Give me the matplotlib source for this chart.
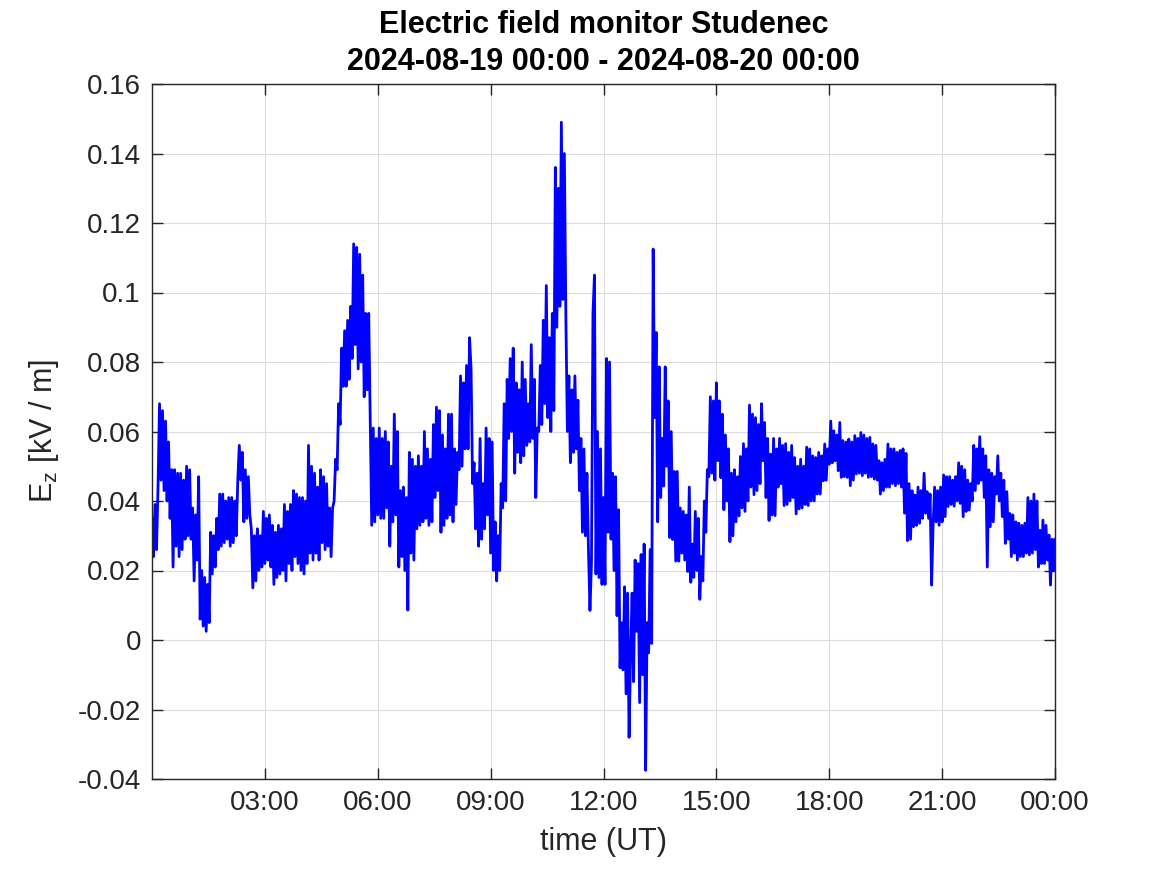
import numpy as np
import matplotlib
matplotlib.use("Agg")
from matplotlib import pyplot as plt
from matplotlib.ticker import FuncFormatter

plt.rcParams["font.family"] = ["Liberation Sans", "DejaVu Sans"]
plt.rcParams["mathtext.fontset"] = "custom"
plt.rcParams["mathtext.rm"] = "Liberation Sans"
plt.rcParams["mathtext.it"] = "Liberation Sans"
plt.rcParams["axes.unicode_minus"] = False

# E_z record, one sample every 2.4 min starting 2024-08-19 00:00 UT (kV/m)
sample_minutes = 2.4
ez = [
    0.035, 0.024, 0.039, 0.026, 0.044, 0.068, 0.046, 0.066, 0.043, 0.063,
    0.040, 0.057, 0.035, 0.049, 0.021, 0.049, 0.027, 0.048, 0.024, 0.048,
    0.026, 0.046, 0.029, 0.050, 0.030, 0.049, 0.029, 0.038, 0.017, 0.036,
    0.023, 0.047, 0.006, 0.020, 0.004, 0.018, 0.0025, 0.016, 0.005, 0.031,
    0.019, 0.030, 0.021, 0.035, 0.026, 0.042, 0.027, 0.042, 0.028, 0.040,
    0.029, 0.041, 0.027, 0.041, 0.028, 0.040, 0.030, 0.046, 0.056, 0.046,
    0.054, 0.034, 0.049, 0.035, 0.047, 0.036, 0.032, 0.015, 0.030, 0.017,
    0.032, 0.020, 0.030, 0.021, 0.037, 0.022, 0.035, 0.023, 0.036, 0.021,
    0.033, 0.016, 0.031, 0.018, 0.033, 0.019, 0.032, 0.020, 0.039, 0.017,
    0.037, 0.022, 0.039, 0.020, 0.043, 0.024, 0.042, 0.022, 0.041, 0.020,
    0.041, 0.019, 0.040, 0.022, 0.056, 0.025, 0.050, 0.023, 0.048, 0.025,
    0.044, 0.023, 0.049, 0.028, 0.047, 0.026, 0.045, 0.027, 0.038, 0.024,
    0.038, 0.040, 0.052, 0.049, 0.068, 0.062, 0.084, 0.073, 0.089, 0.073,
    0.092, 0.075, 0.096, 0.081, 0.114, 0.085, 0.113, 0.078, 0.111, 0.080,
    0.105, 0.070, 0.094, 0.072, 0.094, 0.063, 0.033, 0.061, 0.034, 0.058,
    0.036, 0.061, 0.035, 0.058, 0.035, 0.060, 0.038, 0.057, 0.027, 0.050,
    0.034, 0.065, 0.036, 0.060, 0.021, 0.043, 0.024, 0.044, 0.020, 0.041,
    0.0086, 0.054, 0.025, 0.052, 0.023, 0.050, 0.032, 0.053, 0.033, 0.050,
    0.034, 0.060, 0.035, 0.055, 0.033, 0.052, 0.034, 0.062, 0.041, 0.067,
    0.043, 0.066, 0.031, 0.059, 0.033, 0.055, 0.035, 0.065, 0.036, 0.065,
    0.034, 0.055, 0.039, 0.054, 0.049, 0.076, 0.050, 0.074, 0.055, 0.079,
    0.055, 0.087, 0.078, 0.045, 0.051, 0.032, 0.048, 0.027, 0.058, 0.029,
    0.045, 0.032, 0.061, 0.036, 0.058, 0.025, 0.057, 0.020, 0.034, 0.017,
    0.030, 0.020, 0.045, 0.038, 0.068, 0.040, 0.075, 0.058, 0.081, 0.060,
    0.084, 0.048, 0.074, 0.054, 0.072, 0.051, 0.080, 0.053, 0.075, 0.056,
    0.068, 0.057, 0.085, 0.058, 0.075, 0.041, 0.061, 0.060, 0.079, 0.062,
    0.092, 0.068, 0.102, 0.064, 0.087, 0.060, 0.094, 0.066, 0.136, 0.090,
    0.130, 0.096, 0.149, 0.098, 0.140, 0.093, 0.060, 0.076, 0.051, 0.072,
    0.054, 0.076, 0.055, 0.069, 0.043, 0.058, 0.031, 0.055, 0.030, 0.048,
    0.026, 0.0085, 0.022, 0.094, 0.105, 0.019, 0.060, 0.018, 0.055, 0.016,
    0.041, 0.016, 0.081, 0.031, 0.080, 0.029, 0.048, 0.020, 0.047, 0.007,
    0.0375, -0.008, 0.005, -0.0086, 0.0153, -0.0155, 0.0135, -0.028, -0.004, 0.0135,
    -0.012, 0.023, 0.0025, 0.022, -0.018, 0.0246, -0.010, 0.0276, -0.0375, 0.005,
    -0.0037, 0.026, -0.001, 0.1125, 0.064, 0.0885, 0.034, 0.0786, 0.041, 0.058,
    0.0443, 0.0786, 0.050, 0.0688, 0.0295, 0.060, 0.0289, 0.0485, 0.0227, 0.0485,
    0.0227, 0.038, 0.025, 0.037, 0.023, 0.036, 0.0197, 0.044, 0.0166, 0.0276,
    0.018, 0.037, 0.020, 0.035, 0.0117, 0.024, 0.017, 0.040, 0.031, 0.049,
    0.047, 0.070, 0.048, 0.0688, 0.046, 0.074, 0.0516, 0.0688, 0.0467, 0.065,
    0.0375, 0.059, 0.040, 0.055, 0.0283, 0.048, 0.030, 0.049, 0.034, 0.047,
    0.0357, 0.0528, 0.038, 0.0565, 0.037, 0.055, 0.040, 0.0676, 0.044, 0.065,
    0.0418, 0.064, 0.043, 0.062, 0.045, 0.068, 0.0516, 0.0626, 0.041, 0.058,
    0.0344, 0.0535, 0.036, 0.058, 0.0358, 0.055, 0.044, 0.058, 0.045, 0.056,
    0.0387, 0.0565, 0.039, 0.054, 0.040, 0.056, 0.041, 0.0525, 0.0363, 0.050,
    0.0377, 0.052, 0.038, 0.050, 0.039, 0.0555, 0.0387, 0.055, 0.040, 0.053,
    0.040, 0.0525, 0.042, 0.054, 0.042, 0.053, 0.0458, 0.0564, 0.046, 0.055,
    0.0506, 0.063, 0.051, 0.0602, 0.0516, 0.059, 0.0487, 0.0626, 0.0468, 0.0574,
    0.047, 0.057, 0.0468, 0.0578, 0.0444, 0.057, 0.046, 0.0588, 0.0478, 0.058,
    0.048, 0.0597, 0.0473, 0.059, 0.048, 0.058, 0.0468, 0.0583, 0.047, 0.0564,
    0.0463, 0.056, 0.046, 0.0516, 0.042, 0.051, 0.043, 0.052, 0.044, 0.0564,
    0.044, 0.055, 0.045, 0.055, 0.0444, 0.054, 0.045, 0.0545, 0.044, 0.055,
    0.0365, 0.0537, 0.0286, 0.045, 0.029, 0.043, 0.0326, 0.0417, 0.033, 0.044,
    0.0336, 0.043, 0.035, 0.048, 0.0365, 0.0427, 0.035, 0.042, 0.0158, 0.033,
    0.044, 0.034, 0.043, 0.033, 0.044, 0.034, 0.0475, 0.0355, 0.047, 0.0384,
    0.047, 0.039, 0.046, 0.0385, 0.047, 0.040, 0.051, 0.0393, 0.050, 0.0355,
    0.049, 0.037, 0.046, 0.0374, 0.045, 0.040, 0.056, 0.043, 0.055, 0.045,
    0.0585, 0.046, 0.055, 0.041, 0.053, 0.021, 0.049, 0.0326, 0.048, 0.034,
    0.047, 0.042, 0.053, 0.040, 0.048, 0.0355, 0.046, 0.0278, 0.0427, 0.029,
    0.0364, 0.024, 0.036, 0.025, 0.034, 0.023, 0.0336, 0.024, 0.033, 0.024,
    0.0336, 0.025, 0.041, 0.0245, 0.040, 0.025, 0.042, 0.026, 0.040, 0.021,
    0.0316, 0.022, 0.0345, 0.022, 0.033, 0.023, 0.0302, 0.0158, 0.029, 0.020,
    0.029,
]

x_ticks = [3, 6, 9, 12, 15, 18, 21, 24]
x_labels = ["03:00", "06:00", "09:00", "12:00", "15:00", "18:00", "21:00", "00:00"]
y_ticks = [-0.04, -0.02, 0, 0.02, 0.04, 0.06, 0.08, 0.1, 0.12, 0.14, 0.16]

title = "Electric field monitor Studenec\n2024-08-19 00:00 - 2024-08-20 00:00"

hours = np.arange(len(ez)) * sample_minutes / 60.0

fig = plt.figure(figsize=(11.67, 8.75), dpi=100)
ax = fig.add_axes([152 / 1167, 96 / 875, 903 / 1167, 695 / 875])

ax.plot(hours, ez, color="#0000ff", lw=2.0)

ax.set_xlim(0, 24)
ax.set_ylim(-0.04, 0.16)
ax.set_xticks(x_ticks)
ax.set_xticklabels(x_labels)
ax.set_yticks(y_ticks)
ax.yaxis.set_major_formatter(FuncFormatter(lambda v, p: "%g" % round(v, 2)))

# matlab-ish box, grid and ticks
dark = "#262626"
ax.grid(True, color="#dcdcdc", lw=0.8)
ax.set_axisbelow(True)
for s in ax.spines.values():
    s.set_color(dark)
    s.set_linewidth(1.0)
ax.tick_params(direction="in", length=8, width=1.0, colors=dark,
               labelsize=20, top=True, right=True, pad=8)

ax.set_xlabel("time (UT)", fontsize=22, color=dark, labelpad=8)
ax.set_ylabel(r"E$_\mathrm{z}$ [kV / m]", fontsize=22, color=dark, labelpad=12)
ax.set_title(title, fontsize=22, fontweight="bold", pad=10, linespacing=1.3)

fig.savefig("out.png", dpi=100)
